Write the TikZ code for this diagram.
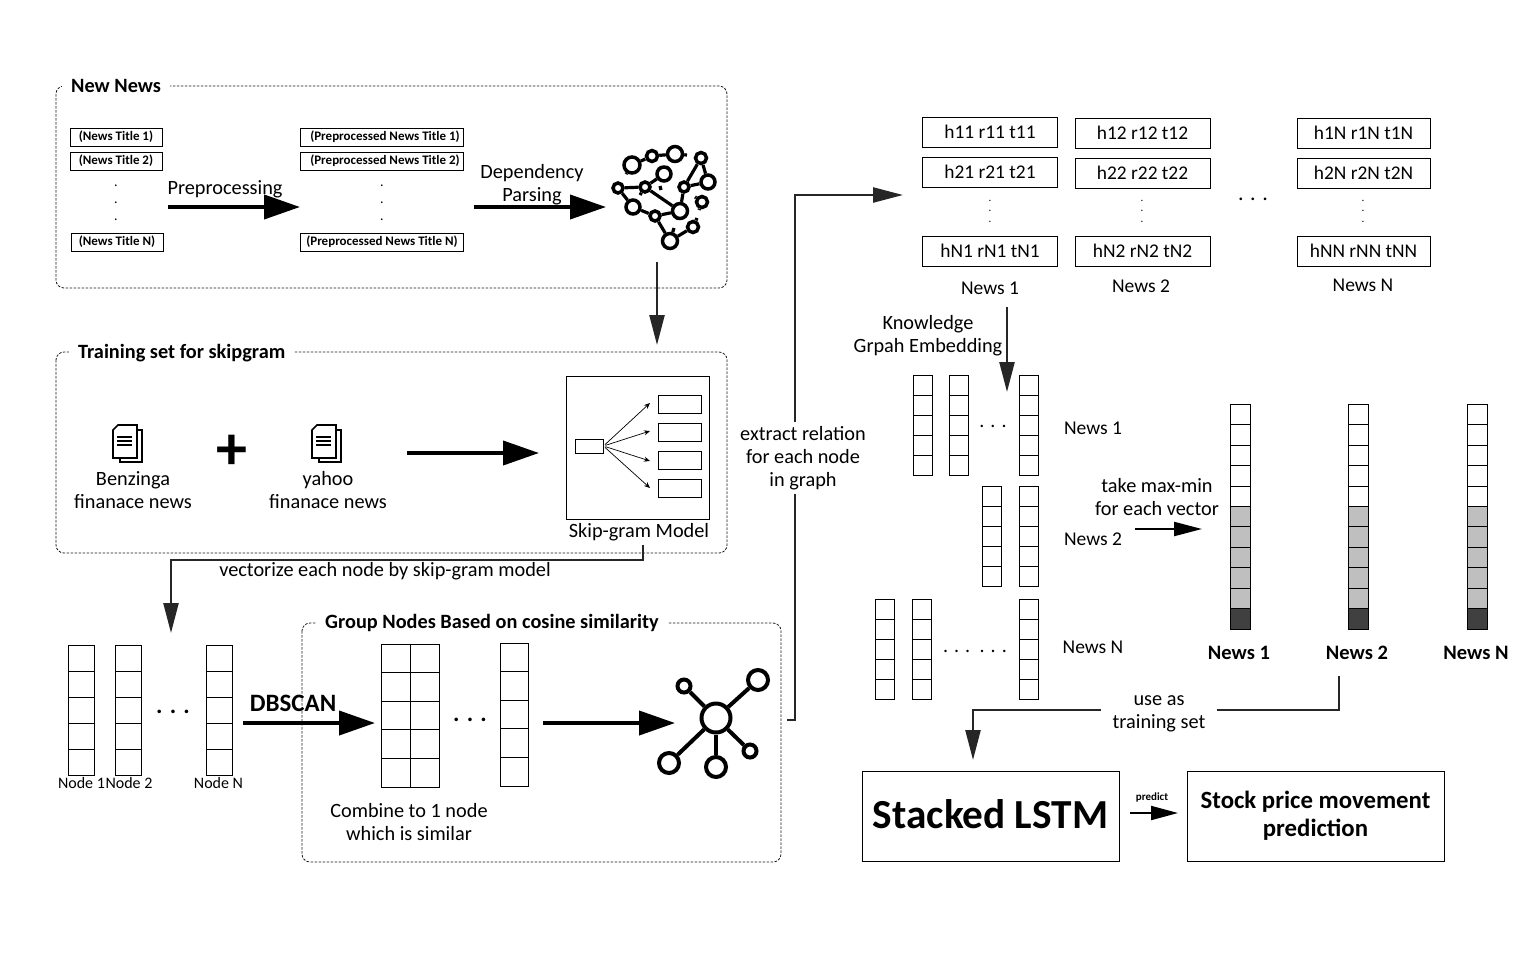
\documentclass[tikz,border=0pt]{standalone}
\usepackage{fontspec}
\setmainfont{Carlito}
\usetikzlibrary{arrows.meta,positioning}
\newcommand{\fsz}[1]{\fontsize{#1}{\fpeval{#1*1.13}}\selectfont}
% document icon, two sheets
\newcommand{\docicon}[2]{
    \draw[line width=1.7pt,fill=white] (#1-7,#2-13) -- (#1+15,#2-13) -- (#1+15,#2+19) -- (#1-7,#2+19) -- cycle;
    \draw[line width=1.7pt,fill=white] (#1-14,#2-13) -- (#1-9,#2-18) -- (#1+10,#2-18) -- (#1+10,#2+15) -- (#1-14,#2+15) -- cycle;
    \foreach \dy in {-6,-2,2}
        \draw[line width=1.5pt] (#1-10,#2+\dy) -- (#1+5,#2+\dy);
}
\begin{document}
\begin{tikzpicture}[x=1pt,y=-1pt,>=stealth,
    group box/.style={draw=black!90,dash pattern=on 2.5pt off 1.5pt,line width=0.8pt,rounded corners=8pt},
    group title/.style={fill=white,inner xsep=9pt,inner ysep=3pt,font=\fsz{20.3}\bfseries,anchor=west,yshift=-1pt},
    title box/.style={draw,line width=0.9pt,inner sep=0pt,font=\fsz{13}\bfseries},
    triple box/.style={draw,line width=0.9pt,inner sep=0pt,minimum width=135pt,minimum height=30pt,font=\fsz{19.4}},
    main box/.style={draw,line width=1pt,inner sep=0pt},
    lbl/.style={align=center,inner sep=0pt,font=\fsz{20.3},yshift=-0.8pt},
    cell/.style={draw,line width=0.9pt,inner sep=0pt,fill=white},
    big arrow/.style={-{Stealth[length=36pt,width=24pt,inset=0pt]},line width=4pt},
    mid arrow/.style={-{Stealth[length=30pt,width=15pt,inset=0pt]},line width=2.4pt,draw=black!85},
    thin arrow/.style={-{Stealth[length=6pt,width=5pt]},line width=0.7pt},
    ring/.style={circle,draw,fill=white,inner sep=0pt}]

    \useasboundingbox (0,0) rectangle (1539,962);

    % dashed groups
    \draw[group box] (56,86) rectangle (727,288);
    \draw[group box] (56,352) rectangle (727,553);
    \draw[group box] (302,623) rectangle (781,862);
    \node[group title] (tnew) at (62,85) {New News};
    \node[group title] (ttrain) at (69,352) {Training set for skipgram};
    \node[group title] (tgroup) at (316,622) {Group Nodes Based on cosine similarity};

    % news titles
    \node[title box,minimum width=92pt,minimum height=18pt] (t1) at (116,137) {(News Title 1)};
    \node[title box,minimum width=92pt,minimum height=18pt] (t2) at (116,161) {(News Title 2)};
    \node[title box,minimum width=92pt,minimum height=18pt] (tn) at (117,242) {(News Title N)};
    \node[lbl,font=\fsz{14},text height=0pt] (tdots) at (116,186) {.};
    \node[lbl,font=\fsz{14},text height=0pt] (tdots2) at (116,203) {.};
    \node[lbl,font=\fsz{14},text height=0pt] (tdots3) at (116,220) {.};
    \node[title box,minimum width=163pt,minimum height=18pt] (p1) at (382,137) {\hspace*{6pt}(Preprocessed News Title 1)};
    \node[title box,minimum width=163pt,minimum height=18pt] (p2) at (382,161) {\hspace*{6pt}(Preprocessed News Title 2)};
    \node[title box,minimum width=163pt,minimum height=18pt] (pn) at (382,242) {(Preprocessed News Title N)};
    \node[lbl,font=\fsz{14},text height=0pt] (pdots) at (382,186) {.};
    \node[lbl,font=\fsz{14},text height=0pt] (pdots2) at (382,203) {.};
    \node[lbl,font=\fsz{14},text height=0pt] (pdots3) at (382,220) {.};

    \node[lbl] (lprep) at (225,188) {Preprocessing};
    \node[lbl] (ldep) at (532,184) {Dependency\\Parsing};
    \coordinate (a1s) at (168,207);
    \coordinate (a1e) at (300,207);
    \coordinate (a2s) at (474,207);
    \coordinate (a2e) at (606,207);
    \draw[big arrow] (a1s) -- (a1e);
    \draw[big arrow] (a2s) -- (a2e);

    % parsed graph
    \foreach \bname/\bx/\by/\bsize in {b1/632/165/16,b2/652/156/11,b3/675/154/15,b4/701/158/11,b5/708/182/14,
        b6/702/202/11,b7/664/174/14,b8/618/188/10,b9/645/187/10,b10/684/187/10,b11/633/207/14,b12/655/216/10,
        b13/680/211/15,b14/693/227/11,b15/670/241/15}
        \node[ring,line width=3.5pt,minimum size=\bsize pt] (\bname) at (\bx,\by) {};
    \path[draw,line width=3.2pt]
    (b1) -- (b2) (b2) -- (b3) (b4) -- (b10) (b4) -- (b5) (b10) -- (b5) (b8) -- (b9) (b9) -- (b13) (b10) -- (b13)
    (b8) -- (b11) (b11) -- (b12) (b12) -- (b13) (b12) -- (b15) (b15) -- (b14) (b7) -- (b9)
    (b3) -- (687,155) (b1) -- (626,174) (b7) -- (659,167) (b7) -- (668,167) (660,186) -- (661,190)
    (b9) -- (640,195) (b13) -- (677,219) (b15) -- (674,228) (b14) -- (697,218) (b6) -- (695,197) (b6) -- (699,210);

    \coordinate (d1s) at (657,262);
    \coordinate (d1e) at (657,345);
    \draw[mid arrow] (d1s) -- (d1e);

    % training set
    \docicon{127}{443}
    \docicon{326}{443}
    \node[lbl] (lben) at (133,489) {Benzinga\\finanace news};
    \node[lbl] (lyah) at (328,489) {yahoo\\finanace news};
    \node[font=\fsz{62}\bfseries,inner sep=0pt] (plus) at (232,452) {+};
    \coordinate (a3s) at (407,453);
    \coordinate (a3e) at (539,453);
    \draw[big arrow] (a3s) -- (a3e);

    % skip-gram
    \node[main box,minimum width=143pt,minimum height=143pt] (skip) at (637.5,447.5) {};
    \node[cell,minimum width=28pt,minimum height=14pt] (skin) at (589,446) {};
    \foreach \i/\oy in {1/404,2/432,3/460,4/488}
        \node[cell,minimum width=43pt,minimum height=18pt] (sko\i) at (679.5,\oy) {};
    \coordinate (skh1) at (650,403);
    \coordinate (skh2) at (650,431);
    \coordinate (skh3) at (650,461);
    \coordinate (skh4) at (650,488);
    \foreach \i in {1,2,3,4}
        \draw[thin arrow,shorten <=2pt] (skin.east) -- (skh\i);
    \node[lbl] (lskip) at (639,531) {Skip-gram Model};

    \node[lbl] (lvec) at (385,570) {vectorize each node by skip-gram model};
    \coordinate (v1) at (643,545);
    \coordinate (v2) at (171,633);
    \draw[mid arrow] (v1) -- (643,560) -- (171,560) -- (v2);

    % node vectors
    \foreach \colname/\cx in {na/81,nb/128,nc/219}
        \foreach \i in {1,...,5}
            \node[cell,minimum width=26pt,minimum height=26pt] (\colname\i) at (\cx,632+\i*26) {};
    \node[font=\fsz{24}\bfseries,inner sep=0pt] (ndots) at (173,712) {. . .};
    \node[lbl,font=\fsz{16}] (ln1) at (81.5,782) {Node 1};
    \node[lbl,font=\fsz{16}] (ln2) at (129,782) {Node 2};
    \node[lbl,font=\fsz{16}] (lnn) at (218.5,782) {Node N};

    \node[lbl,font=\fsz{25}\bfseries] (ldb) at (293,703) {DBSCAN};
    \coordinate (a4s) at (243,723);
    \coordinate (a4e) at (375,723);
    \draw[big arrow] (a4s) -- (a4e);

    % grouped vectors
    \foreach \colname/\cx in {ga/395.5,gb/424.5}
        \foreach \i in {1,...,5}
            \node[cell,minimum width=29pt,minimum height=28.6pt] (\colname\i) at (\cx,629.7+\i*28.6) {};
    \foreach \i in {1,...,5}
        \node[cell,minimum width=28pt,minimum height=28.6pt] (gc\i) at (514,628.7+\i*28.6) {};
    \node[font=\fsz{24}\bfseries,inner sep=0pt] (gdots) at (470,720) {. . .};
    \node[lbl] (lcomb) at (409,821) {Combine to 1 node\\which is similar};
    \coordinate (a5s) at (543,723);
    \coordinate (a5e) at (675,723);
    \draw[big arrow] (a5s) -- (a5e);

    % cluster icon
    \node[ring,line width=4pt,minimum size=29pt] (hub) at (716,718) {};
    \node[ring,line width=4pt,minimum size=13pt] (h1) at (684,686) {};
    \node[ring,line width=4pt,minimum size=20pt] (h2) at (758,680) {};
    \node[ring,line width=4pt,minimum size=20pt] (h3) at (669,763) {};
    \node[ring,line width=4pt,minimum size=20pt] (h4) at (716,767) {};
    \node[ring,line width=4pt,minimum size=13pt] (h5) at (750,751) {};
    \foreach \i in {1,...,5}
        \draw[line width=4pt] (hub) -- (h\i);

    % to the triples
    \coordinate (e1) at (787,720);
    \coordinate (e2) at (903,195);
    \draw[mid arrow] (e1) -- (795,720) -- (795,195) -- (e2);
    \node[lbl,fill=white,inner sep=4pt] (lext) at (803,457) {extract relation\\for each node\\in graph};

    % triples
    \node[triple box] (k11) at (990,132) {h11 r11 t11};
    \node[triple box] (k21) at (990,172) {h21 r21 t21};
    \node[triple box] (kn1) at (990,251) {hN1 rN1 tN1};
    \node[triple box] (k12) at (1142.5,133) {h12 r12 t12};
    \node[triple box] (k22) at (1142.5,173) {h22 r22 t22};
    \node[triple box] (kn2) at (1142.5,251) {hN2 rN2 tN2};
    \node[triple box,minimum width=133pt] (k1n) at (1363.5,133) {h1N r1N t1N};
    \node[triple box,minimum width=133pt] (k2n) at (1363.5,173) {h2N r2N t2N};
    \node[triple box,minimum width=133pt] (knn) at (1363.5,251) {hNN rNN tNN};
    \foreach \dname/\dx in {dk1/990,dk2/1142,dk3/1363}
        \foreach \i/\dy in {1/201,2/211,3/222}
            \node[lbl,font=\fsz{11},text height=0pt] (\dname\i) at (\dx,\dy) {.};
    \node[font=\fsz{22},inner sep=0pt] (kdots) at (1253,199) {. . .};
    \node[lbl,font=\fsz{19.5}] (ln1a) at (990,287) {News 1};
    \node[lbl,font=\fsz{19.5}] (ln2a) at (1141,285) {News 2};
    \node[lbl,font=\fsz{19.5}] (lnna) at (1363,285) {News N};

    \node[lbl] (lkge) at (928,335) {Knowledge\\Grpah Embedding};

    % news vectors
    \foreach \colname/\cx/\cy in {va/922.5/365,vb/958.5/365,vc/1028.5/365,vd/992/476,ve/1028.5/476,
        vf/884.5/589,vg/921.5/589,vh/1028.5/589}
        \foreach \i in {1,...,5}
            \node[cell,minimum width=19pt,minimum height=20pt] (\colname\i) at (\cx,\cy+\i*20) {};
    \coordinate (a6s) at (1007,307);
    \coordinate (a6e) at (1007,392);
    \draw[mid arrow] (a6s) -- (a6e);
    \node[font=\fsz{20},inner sep=0pt] (vdots1) at (993,426) {. . .};
    \node[font=\fsz{20},inner sep=0pt] (vdots2) at (975,651) {. . . \,. . .};
    \node[lbl,font=\fsz{19.5}] (lv1) at (1093,427) {News 1};
    \node[lbl,font=\fsz{19.5}] (lv2) at (1093,538) {News 2};
    \node[lbl,font=\fsz{19.5}] (lvn) at (1093,647) {News N};

    \node[lbl] (lmax) at (1157,496.5) {take max-min\\for each vector};
    \coordinate (a7s) at (1135,529);
    \coordinate (a7e) at (1202,529);
    \draw[-{Stealth[length=28pt,width=14pt,inset=0pt]},line width=2.2pt] (a7s) -- (a7e);

    % max-min vectors
    \foreach \colname/\cx in {ma/1240,mb/1358,mc/1477}{
        \foreach \i in {1,...,5}
            \node[cell,minimum width=20pt,minimum height=20.45pt] (\colname\i) at (\cx,394+\i*20.45) {};
        \foreach \i in {6,...,10}
            \node[cell,fill=black!25,minimum width=20pt,minimum height=20.45pt] (\colname\i) at (\cx,394+\i*20.45) {};
        \node[cell,fill=black!75,minimum width=20pt,minimum height=20.45pt] (\colname11) at (\cx,394+11*20.45) {};
    }
    \node[lbl,font=\fsz{20.5}\bfseries] (lm1) at (1239,652) {News 1};
    \node[lbl,font=\fsz{20.5}\bfseries] (lm2) at (1357,652) {News 2};
    \node[lbl,font=\fsz{20.5}\bfseries] (lmn) at (1476,652) {News N};

    % training
    \coordinate (u1) at (1339,676);
    \coordinate (u2) at (973,760);
    \draw[mid arrow] (u1) -- (1339,710) -- (973,710) -- (u2);
    \node[lbl,fill=white,inner sep=0pt,minimum width=116pt,minimum height=46pt] (luse) at (1159,713) {use as\\training set};

    % model
    \node[main box,minimum width=257pt,minimum height=90pt,font=\fsz{41.3}\bfseries] (lstm) at (990.5,816) {\raisebox{5pt}{Stacked LSTM}};
    \node[main box,minimum width=257pt,minimum height=90pt,align=center,font=\fsz{24.8}\bfseries] (stock) at (1315.5,816) {Stock price movement\\prediction};
    \node[lbl,font=\fsz{11}\bfseries] (lpred) at (1152,797) {predict};
    \coordinate (a8s) at (1130,813);
    \coordinate (a8e) at (1178,813);
    \draw[-{Stealth[length=27pt,width=14pt,inset=0pt]},line width=2pt] (a8s) -- (a8e);
\end{tikzpicture}
\end{document}
